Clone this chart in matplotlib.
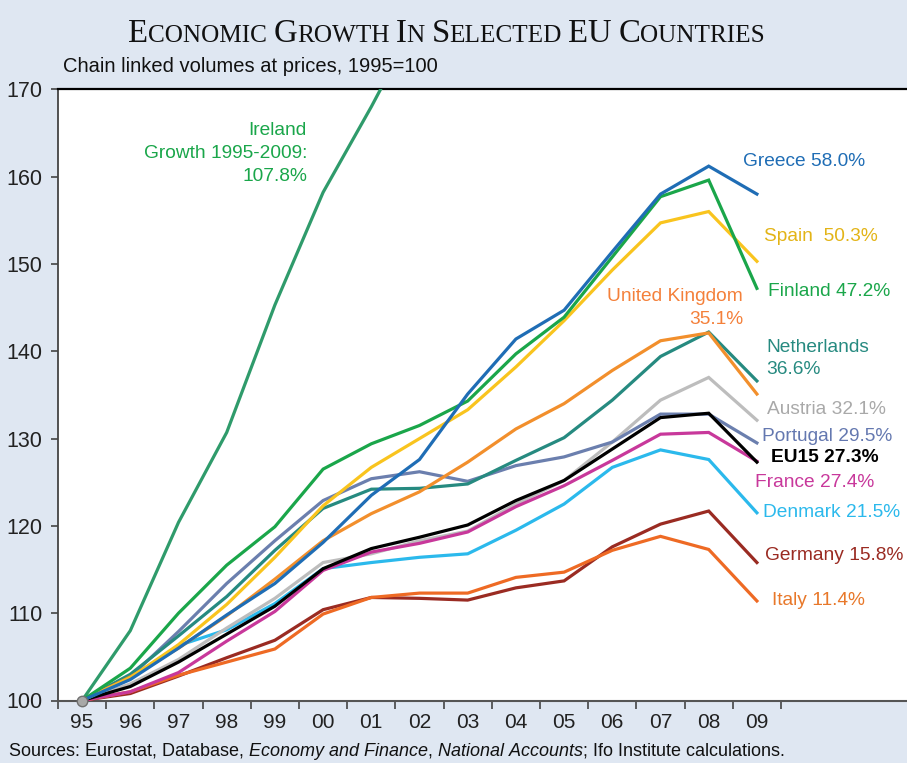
import matplotlib
matplotlib.use("Agg")
import matplotlib.pyplot as plt
import numpy as np

plt.rcParams['font.family'] = ['Liberation Sans', 'DejaVu Sans']
plt.rcParams['mathtext.fontset'] = 'custom'
plt.rcParams['mathtext.rm'] = 'Liberation Sans'
plt.rcParams['mathtext.it'] = 'Liberation Sans:italic'

years = ["95", "96", "97", "98", "99", "00", "01", "02", "03", "04", "05", "06", "07", "08", "09"]

ireland     = [100, 108.0, 120.4, 130.7, 145.3, 158.2, 168.0, 178.4, 186.3, 194.7, 206.5, 217.5, 229.7, 221.7, 207.8]
greece      = [100, 102.4, 106.0, 109.8, 113.4, 118.1, 123.5, 127.6, 135.1, 141.4, 144.7, 151.4, 158.0, 161.2, 158.0]
spain       = [100, 102.6, 106.4, 111.0, 116.4, 122.3, 126.7, 130.0, 133.3, 138.2, 143.5, 149.3, 154.7, 156.0, 150.3]
finland     = [100, 103.7, 110.0, 115.5, 119.9, 126.5, 129.4, 131.5, 134.3, 139.7, 143.9, 150.8, 157.7, 159.6, 147.2]
uk          = [100, 102.7, 106.0, 109.7, 113.9, 118.3, 121.4, 123.9, 127.3, 131.1, 134.0, 137.8, 141.2, 142.1, 135.1]
netherlands = [100, 103.0, 107.4, 111.9, 117.2, 122.0, 124.2, 124.3, 124.8, 127.5, 130.1, 134.4, 139.4, 142.2, 136.6]
austria     = [100, 101.9, 104.7, 108.3, 111.7, 115.8, 116.8, 118.3, 119.4, 122.5, 125.2, 129.6, 134.4, 137.0, 132.1]
portugal    = [100, 102.7, 107.9, 113.4, 118.3, 122.9, 125.4, 126.2, 125.1, 126.9, 127.9, 129.6, 132.8, 132.8, 129.5]
eu15        = [100, 101.6, 104.4, 107.6, 110.8, 115.1, 117.4, 118.7, 120.1, 122.9, 125.2, 128.8, 132.4, 132.9, 127.3]
france      = [100, 101.0, 103.2, 106.8, 110.2, 114.9, 117.0, 118.0, 119.3, 122.2, 124.6, 127.5, 130.5, 130.7, 127.4]
denmark     = [100, 102.5, 106.3, 108.1, 111.1, 115.1, 115.8, 116.4, 116.8, 119.5, 122.5, 126.7, 128.7, 127.6, 121.5]
germany     = [100, 100.8, 102.8, 104.9, 106.9, 110.4, 111.8, 111.7, 111.5, 112.9, 113.7, 117.6, 120.2, 121.7, 115.8]
italy       = [100, 101.0, 102.9, 104.4, 105.9, 109.9, 111.8, 112.3, 112.3, 114.1, 114.7, 117.2, 118.8, 117.3, 111.4]

yticks = [100, 110, 120, 130, 140, 150, 160, 170]

bg = '#dfe7f2'
fig = plt.figure(figsize=(9.07, 7.63), dpi=100, facecolor=bg)
W, H = 907, 763
ax = fig.add_axes([58 / W, (H - 700.5) / H, 1 - 58 / W, (700.5 - 89.3) / H])
ax.set_facecolor('white')

x = np.arange(len(years))
series = [
    (ireland, '#2f9b6b'),
    (germany, '#9a2b22'),
    (italy, '#ee6a24'),
    (denmark, '#2bb9ec'),
    (austria, '#bdbdbd'),
    (france, '#c8389b'),
    (portugal, '#6b7fae'),
    (eu15, '#000000'),
    (netherlands, '#268a80'),
    (uk, '#f28f2c'),
    (spain, '#f9c41e'),
    (finland, '#1aa64a'),
    (greece, '#1f6db5'),
]
for vals, col in series:
    ax.plot(x, vals, color=col, lw=2.3, solid_joinstyle='miter', zorder=3)

ax.plot([x[0]], [eu15[0]], 'o', ms=7.5, mfc='#a8a8a8', mec='#707070', mew=1.0, zorder=5, clip_on=False)

ax.set_xlim(-0.5, -0.5 + 849 / 48.2)
ax.set_ylim(100, 170)

ax.set_xticks(np.arange(-0.5, len(years), 1.0))
ax.set_xticklabels([])
ax.set_xticks(x, minor=True)
ax.set_xticklabels(years, minor=True, fontsize=15, color='#222222')
ax.tick_params(axis='x', which='major', direction='out', length=6, width=1.2, color='#444444')
ax.tick_params(axis='x', which='minor', length=0, pad=9)
ax.set_yticks(yticks)
ax.set_yticklabels([str(v) for v in yticks], fontsize=15.5, color='#222222')
ax.tick_params(axis='y', direction='out', length=5, width=1.2, color='#444444', pad=6)

ax.spines['right'].set_visible(False)
ax.spines['top'].set_color('black')
ax.spines['top'].set_linewidth(1.6)
ax.spines['left'].set_color('#444444')
ax.spines['left'].set_linewidth(1.3)
ax.spines['bottom'].set_color('#555555')
ax.spines['bottom'].set_linewidth(1.5)


def px2data(px, py):
    return (px - 58) / 48.2 - 0.5, 100 + (700.5 - py) / 8.73


labels = [
    ("Ireland\nGrowth 1995-2009:\n107.8%", '#1aa64a', 307, 153.5, 'right', 'normal'),
    ("Greece 58.0%", '#1f6db5', 743, 162, 'left', 'normal'),
    ("Spain  50.3%", '#e3b417', 764, 237, 'left', 'normal'),
    ("Finland 47.2%", '#1aa64a', 768, 292, 'left', 'normal'),
    ("United Kingdom\n35.1%", '#f4803a', 743, 308, 'right', 'normal'),
    ("Netherlands\n36.6%", '#268a80', 766, 358.5, 'left', 'normal'),
    ("Austria 32.1%", '#a9a9a9', 767, 410, 'left', 'normal'),
    ("Portugal 29.5%", '#6478b0', 762, 437, 'left', 'normal'),
    ("EU15 27.3%", '#000000', 771, 458, 'left', 'bold'),
    ("France 27.4%", '#c8389b', 755, 483, 'left', 'normal'),
    ("Denmark 21.5%", '#2bb9ec', 763, 513, 'left', 'normal'),
    ("Germany 15.8%", '#9a2b22', 765, 556, 'left', 'normal'),
    ("Italy 11.4%", '#e8782a', 772, 601, 'left', 'normal'),
]
for txt, col, px, py, ha, fw in labels:
    dx, dy = px2data(px, py)
    ax.text(dx, dy, txt, color=col, fontsize=13.8, ha=ha, va='center', multialignment=ha,
            fontweight=fw, linespacing=1.45, clip_on=False, zorder=6)

# Subtitle and source
fig.text(63 / W, (H - 67) / H, "Chain linked volumes at prices, 1995=100", fontsize=14.5,
         ha='left', va='center', color='#111111')
fig.text(8 / W, (H - 752) / H,
         r"Sources: Eurostat, Database, $\mathit{Economy\ and\ Finance}$, $\mathit{National\ Accounts}$; Ifo Institute calculations.",
         fontsize=13, ha='left', va='center', color='#111111')

# Small-caps title
renderer = fig.canvas.get_renderer()
big, small = 23.6, 18.2
serif = ['Liberation Serif', 'DejaVu Serif']
segments = [("E", big), ("CONOMIC", small), (" ", small), ("G", big), ("ROWTH", small), (" ", small),
            ("I", big), ("N", small), (" ", small), ("S", big), ("ELECTED", small), (" ", small),
            ("EU", big), (" ", small), ("C", big), ("OUNTRIES", small)]


def seg_width(s, size):
    t1 = fig.text(0, 0, s + "|", fontsize=size, family=serif)
    t2 = fig.text(0, 0, "|", fontsize=size, family=serif)
    w = t1.get_window_extent(renderer).width - t2.get_window_extent(renderer).width
    t1.remove(); t2.remove()
    return w


widths = [seg_width(s, sz) for s, sz in segments]
total = sum(widths)
cx = 446.5
xpos = cx - total / 2
base_y = (H - 42) / H
for (s, sz), w in zip(segments, widths):
    if s.strip():
        fig.text(xpos / W, base_y, s, fontsize=sz, family=serif, ha='left', va='baseline', color='#111111')
    xpos += w

fig.savefig("out.png", dpi=100, facecolor=bg)
